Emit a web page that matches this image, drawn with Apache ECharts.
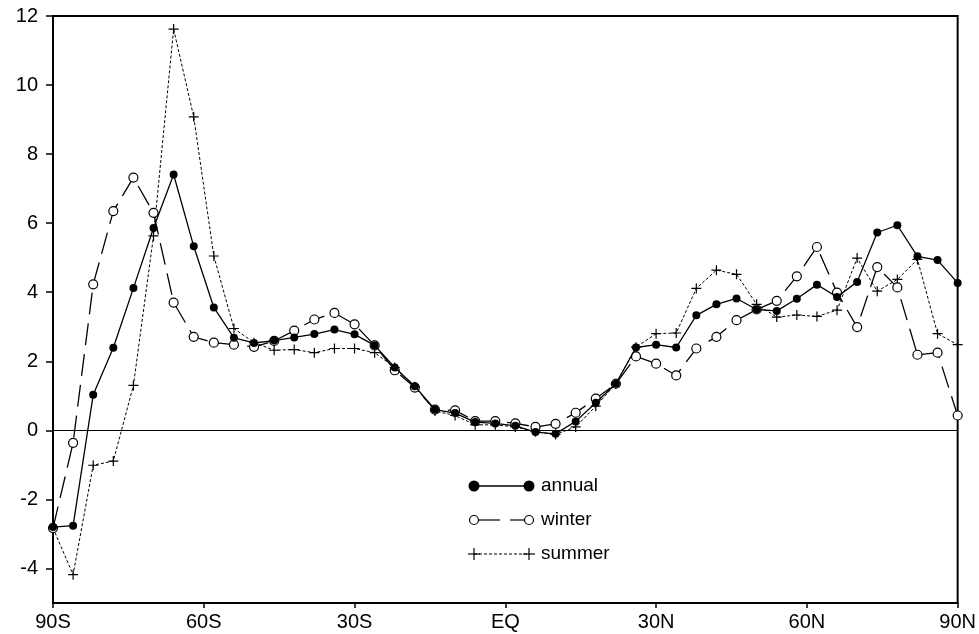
<!DOCTYPE html>
<html>
<head>
<meta charset="utf-8">
<script src="https://cdn.jsdelivr.net/npm/echarts@6/dist/echarts.min.js"></script>
<style>
  html, body { margin: 0; padding: 0; background: #fff; }
  #chart { width: 979px; height: 634px; }
</style>
</head>
<body>
<div id="chart"></div>
<script>
// latitude grid, 4 degree steps from 90S to 90N
var lats = [-90, -86, -82, -78, -74, -70, -66, -62, -58, -54, -50, -46, -42, -38, -34, -30,
  -26, -22, -18, -14, -10, -6, -2, 2, 6, 10, 14, 18, 22, 26, 30, 34, 38, 42, 46, 50,
  54, 58, 62, 66, 70, 74, 78, 82, 86, 90]
var annual = [-2.8, -2.76, 1.03, 2.39, 4.12, 5.86, 7.41, 5.33, 3.56, 2.68, 2.53, 2.6, 2.69, 2.79, 2.92, 2.78,
  2.46, 1.82, 1.28, 0.6, 0.5, 0.24, 0.2, 0.13, -0.05, -0.1, 0.26, 0.8, 1.35, 2.4, 2.48, 2.4, 3.33, 3.65, 3.82, 3.5,
  3.46, 3.81, 4.22, 3.86, 4.3, 5.73, 5.94, 5.04, 4.93, 4.27]
var winter = [-2.83, -0.36, 4.23, 6.35, 7.32, 6.3, 3.7, 2.71, 2.54, 2.48, 2.42, 2.59, 2.89, 3.21, 3.4, 3.07,
  2.46, 1.74, 1.24, 0.6, 0.58, 0.27, 0.27, 0.2, 0.1, 0.19, 0.51, 0.92, 1.35, 2.14, 1.93, 1.59, 2.37, 2.71, 3.19, 3.5,
  3.75, 4.46, 5.31, 3.99, 2.99, 4.73, 4.14, 2.19, 2.25, 0.43]
var summer = [-2.83, -4.18, -1.01, -0.89, 1.3, 5.63, 11.62, 9.08, 5.05, 2.95, 2.54, 2.32, 2.34, 2.25, 2.37, 2.37,
  2.25, 1.82, 1.26, 0.56, 0.43, 0.16, 0.16, 0.1, -0.04, -0.12, 0.1, 0.7, 1.35, 2.41, 2.8, 2.82, 4.11, 4.64, 4.52, 3.65,
  3.28, 3.34, 3.3, 3.48, 4.99, 4.03, 4.37, 4.95, 2.8, 2.48]
var yTicks = [-4, -2, 0, 2, 4, 6, 8, 10, 12]
var legendNames = ['annual', 'winter', 'summer']

var FONT = 'Liberation Sans'
var plusPath = 'path://M0,5 L10,5 M5,0 L5,10'

function pairs(vals) {
  return lats.map(function (lat, i) { return [lat, vals[i]] })
}

function latLabel(v) {
  if (v === 0) return 'EQ'
  return v < 0 ? (-v) + 'S' : v + 'N'
}

var chart = echarts.init(document.getElementById('chart'))

// hand-drawn legend in the middle of the plot
var lg = []
var lx0 = 474, lx1 = 529, ltx = 541
var rows = [486, 520, 554]
// annual: solid line, filled dots
lg.push({ type: 'line', shape: { x1: lx0, y1: rows[0], x2: lx1, y2: rows[0] }, style: { stroke: '#000', lineWidth: 1.3 } })
lg.push({ type: 'circle', shape: { cx: lx0, cy: rows[0], r: 5.5 }, style: { fill: '#000' } })
lg.push({ type: 'circle', shape: { cx: lx1, cy: rows[0], r: 5.5 }, style: { fill: '#000' } })
// winter: broken line, open circles
lg.push({ type: 'line', shape: { x1: lx0 + 4, y1: rows[1], x2: 500, y2: rows[1] }, style: { stroke: '#000', lineWidth: 1.2 } })
lg.push({ type: 'line', shape: { x1: 510, y1: rows[1], x2: lx1 - 4, y2: rows[1] }, style: { stroke: '#000', lineWidth: 1.2 } })
lg.push({ type: 'circle', shape: { cx: lx0, cy: rows[1], r: 4.5 }, style: { fill: '#fff', stroke: '#000', lineWidth: 1.2 } })
lg.push({ type: 'circle', shape: { cx: lx1, cy: rows[1], r: 4.5 }, style: { fill: '#fff', stroke: '#000', lineWidth: 1.2 } })
// summer: short dashes, plus marks
lg.push({ type: 'line', shape: { x1: lx0, y1: rows[2], x2: lx1, y2: rows[2] }, style: { stroke: '#000', lineWidth: 1, lineDash: [3, 2] } })
;[lx0, lx1].forEach(function (x) {
  lg.push({ type: 'line', shape: { x1: x - 6, y1: rows[2], x2: x + 6, y2: rows[2] }, style: { stroke: '#000', lineWidth: 1.2 } })
  lg.push({ type: 'line', shape: { x1: x, y1: rows[2] - 6, x2: x, y2: rows[2] + 6 }, style: { stroke: '#000', lineWidth: 1.2 } })
})
legendNames.forEach(function (name, i) {
  lg.push({ type: 'text', x: ltx, y: rows[i], style: { text: name, font: '19px "' + FONT + '"', fill: '#000', verticalAlign: 'middle' } })
})

chart.setOption({
  animation: false,
  backgroundColor: '#fff',
  grid: {
    left: 53,
    right: 20,
    top: 16,
    bottom: 31,
    show: true,
    borderColor: '#000',
    borderWidth: 2
  },
  xAxis: {
    type: 'value',
    min: -90,
    max: 90,
    interval: 30,
    axisLine: { onZero: false, lineStyle: { color: '#000', width: 2 } },
    axisTick: { show: true, length: 5, lineStyle: { color: '#000', width: 1.5 } },
    axisLabel: { color: '#000', fontFamily: FONT, fontSize: 20, margin: 9, formatter: latLabel },
    splitLine: { show: false }
  },
  yAxis: {
    type: 'value',
    min: -5,
    max: 12,
    interval: 1,
    axisLine: { show: true, onZero: false, lineStyle: { color: '#000', width: 2 } },
    axisTick: { show: true, length: 7, customValues: yTicks, lineStyle: { color: '#000', width: 1.5 } },
    axisLabel: { color: '#000', fontFamily: FONT, fontSize: 20, margin: 15, customValues: yTicks },
    splitLine: { show: false }
  },
  graphic: lg,
  series: [
    {
      name: 'annual',
      type: 'line',
      data: pairs(annual),
      symbol: 'circle',
      symbolSize: 8,
      itemStyle: { color: '#000' },
      lineStyle: { color: '#000', width: 1.3 },
      z: 4,
      markLine: {
        silent: true,
        symbol: 'none',
        label: { show: false },
        lineStyle: { color: '#000', width: 1, type: 'solid' },
        data: [{ yAxis: 0 }]
      }
    },
    {
      name: 'winter',
      type: 'line',
      data: pairs(winter),
      symbol: 'circle',
      symbolSize: 9,
      showAllSymbol: true,
      itemStyle: { color: '#fff', borderColor: '#000', borderWidth: 1.2 },
      lineStyle: { color: '#000', width: 1.3, type: [22, 9] },
      z: 3
    },
    {
      name: 'summer',
      type: 'line',
      data: pairs(summer),
      symbol: plusPath,
      symbolSize: 10,
      showAllSymbol: true,
      itemStyle: { color: 'none', borderColor: '#000', borderWidth: 1.2 },
      lineStyle: { color: '#000', width: 1, type: [3, 2] },
      z: 2
    }
  ]
})
</script>
</body>
</html>
